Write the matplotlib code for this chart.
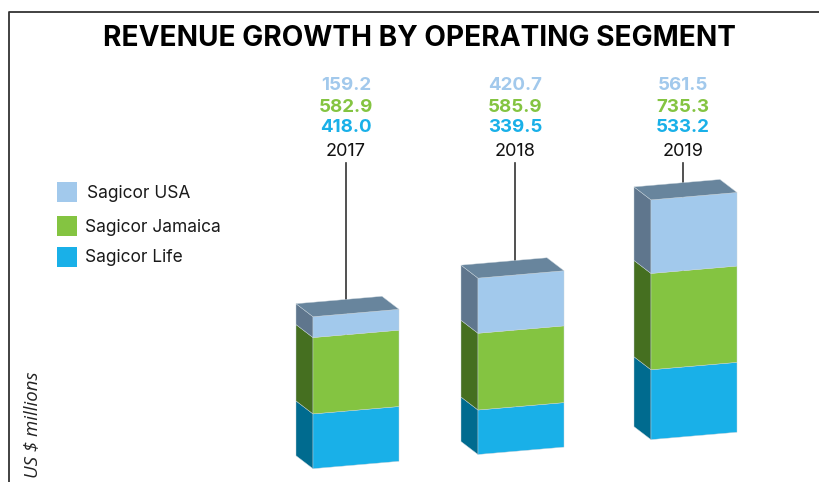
import matplotlib
matplotlib.use('Agg')
import matplotlib.pyplot as plt
from matplotlib.patches import Polygon, Rectangle
from matplotlib.transforms import Affine2D

years = ['2017', '2018', '2019']
segments = ['Sagicor USA', 'Sagicor Jamaica', 'Sagicor Life']
life = [418.0, 339.5, 533.2]
jamaica = [582.9, 585.9, 735.3]
usa = [159.2, 420.7, 561.5]

front_colors = {'life': '#19b0e8', 'jamaica': '#84c441', 'usa': '#a2c9ec'}
side_colors = {'life': '#006b8f', 'jamaica': '#456f20', 'usa': '#5f768d'}
top_color = '#68859d'
line_color = '#333333'

W, H = 819, 482
px_per_unit = 0.131
tilt = 0.086
base_px = 495.6  # where value 0 would sit at x = 0
bar_left = [313, 478, 651]
bar_w = 86
depth_x, depth_y = -17, 13
line_x = [346, 515, 683]
font = 'Inter'

fig = plt.figure(figsize=(W / 100, H / 100), dpi=100)
ax = fig.add_axes([0, 0, 1, 1])
ax.set_xlim(0, W)
ax.set_ylim((base_px - H) / px_per_unit, base_px / px_per_unit)
ax.axis('off')

# the whole chart is sheared so the bars look like they are on a floor
front = ax.transData + Affine2D([[1, 0, 0], [tilt, 1, 0], [0, 0, 1]])
back = front + Affine2D().translate(depth_x, depth_y)


def txt(x, y, s, **kw):
    fig.text(x / W, 1 - y / H, s, va='center', **kw)


def face(x0, x1, v0, v1, color, trans_left, trans_right):
    # four corners, left side may live on the back plane
    p = [trans_left.transform((x0, v0)), trans_right.transform((x1, v0)),
         trans_right.transform((x1, v1)), trans_left.transform((x0, v1))]
    fig.patches.append(Polygon(p, closed=True, facecolor=color, edgecolor='#c8d4dc',
                               linewidth=0.3, transform=None, figure=fig))


fig.canvas.draw()

# frame round the panel
ax.plot([8.5, 8.5, W], [(base_px - H) / px_per_unit, (base_px - 11.5) / px_per_unit,
                        (base_px - 11.5) / px_per_unit],
        color=line_color, lw=1.3, clip_on=False, zorder=1)

for i, yr in enumerate(years):
    total = life[i] + jamaica[i] + usa[i]
    x0 = bar_left[i]
    x1 = x0 + bar_w
    # leader goes behind the bar
    ax.plot([line_x[i], line_x[i]], [total / 2, (base_px - 163) / px_per_unit],
            color=line_color, lw=1.2, zorder=1)

    bottom = 0
    for key, vals in (('life', life), ('jamaica', jamaica), ('usa', usa)):
        v = vals[i]
        face(x0, x0, bottom, bottom + v, side_colors[key], back, front)
        face(x0, x1, bottom, bottom + v, front_colors[key], front, front)
        bottom += v
    # top of the box
    p = [front.transform((x0, total)), front.transform((x1, total)),
         back.transform((x1, total)), back.transform((x0, total))]
    fig.patches.append(Polygon(p, closed=True, facecolor=top_color, edgecolor='#c8d4dc',
                               linewidth=0.3, transform=None, figure=fig))

    txt(line_x[i], 86, f'{usa[i]:.1f}', color=front_colors['usa'], fontsize=13.5,
        fontweight='bold', ha='center', family=font)
    txt(line_x[i], 107, f'{jamaica[i]:.1f}', color=front_colors['jamaica'], fontsize=13.5,
        fontweight='bold', ha='center', family=font)
    txt(line_x[i], 128, f'{life[i]:.1f}', color=front_colors['life'], fontsize=13.5,
        fontweight='bold', ha='center', family=font)
    txt(line_x[i], 152, yr, color='#111111', fontsize=13, ha='center', family=font)

txt(419.5, 38.5, 'REVENUE GROWTH BY OPERATING SEGMENT', color='black', fontsize=20.2,
    fontweight='bold', ha='center', family=font)

legend_y = [192, 226, 257]
legend_tx = [87, 85, 85]
legend_c = [front_colors['usa'], front_colors['jamaica'], front_colors['life']]
for name, y, tx, c in zip(segments, legend_y, legend_tx, legend_c):
    fig.patches.append(Rectangle((57 / W, 1 - (y + 10) / H), 20 / W, 20 / H, facecolor=c,
                                 edgecolor='none', transform=fig.transFigure))
    txt(tx, y + 1, name, color='#1a1a1a', fontsize=12.5, ha='left', family=font)

fig.text(32 / W, 1 - 478 / H, 'US $ millions', rotation=90, ha='center', va='bottom',
         fontsize=13.4, style='italic', family='Open Sans', color='#222222')

fig.savefig('out.png', dpi=100)
